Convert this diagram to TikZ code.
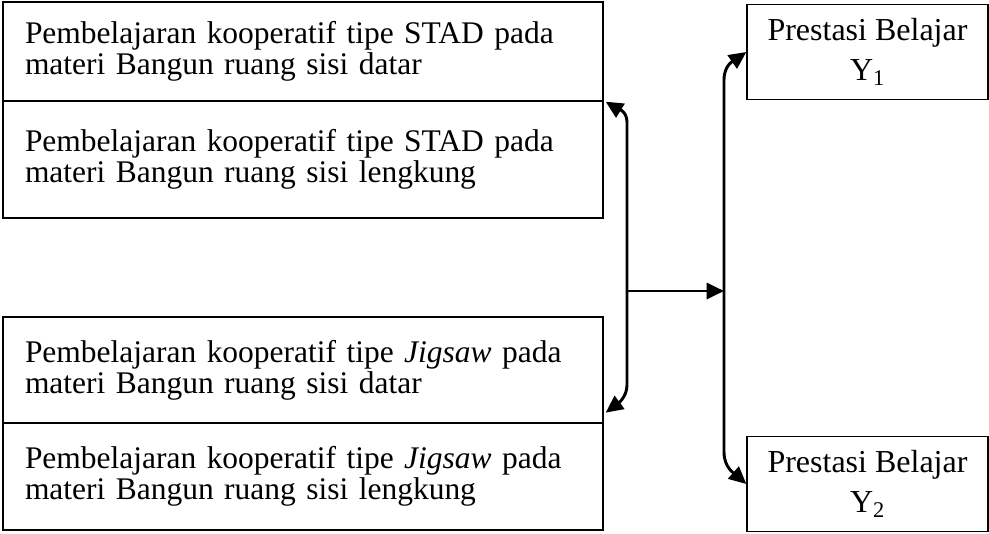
\documentclass[tikz,border=0pt]{standalone}
\usepackage{fontspec}
\setmainfont{Liberation Serif}
\usetikzlibrary{arrows.meta}
\begin{document}
\begin{tikzpicture}[x=0.75pt,y=-0.75pt]
\useasboundingbox (0,0) rectangle (989,533);
\tikzset{
  lbox/.style={draw, line width=1pt, minimum width=450pt, text width=417pt,
    align=left, inner xsep=16.5pt, inner ysep=0pt,
    font=\fontsize{23.6}{23}\selectfont},
  rbox/.style={draw, line width=1pt, minimum width=180.75pt, minimum height=71.25pt,
    align=center, inner sep=0pt, font=\fontsize{24}{30}\selectfont},
  conn/.style={line width=2.2pt, -{Triangle[length=13pt,width=12pt]}}
}
\node[lbox, minimum height=74.25pt] (b1) at (303,51.5)
  {Pembelajaran kooperatif tipe STAD pada\\materi Bangun ruang sisi datar};
\node[lbox, minimum height=87.75pt] (b2) at (303,159.5)
  {Pembelajaran kooperatif tipe STAD pada\\materi Bangun ruang sisi lengkung};
\node[lbox, minimum height=79.5pt] (b3) at (303,370)
  {Pembelajaran kooperatif tipe \textit{Jigsaw} pada\\materi Bangun ruang sisi datar};
\node[lbox, minimum height=80.25pt] (b4) at (303,476.5)
  {Pembelajaran kooperatif tipe \textit{Jigsaw} pada\\materi Bangun ruang sisi lengkung};
\node[rbox] (y1) at (867.5,52) {Prestasi Belajar\\Y\textsubscript{1}};
\node[rbox] (y2) at (867.5,484) {Prestasi Belajar\\Y\textsubscript{2}};

\coordinate (mid) at (627,291);
\coordinate (lt) at (627,122);
\coordinate (lb) at (627,385);
\coordinate (rm) at (724,291);
\coordinate (rt) at (724,80);
\coordinate (rb) at (724,452);

\draw[conn] (mid) -- (lt) .. controls (627,110) and (616,108) .. ([xshift=1.5pt]b1.south east);
\draw[conn] (mid) -- (lb) .. controls (627,398) and (616,405) .. ([xshift=1.5pt,yshift=8.25pt]b3.south east);
\draw[conn] (mid) -- (rm);
\draw[conn] (rm) -- (rt) .. controls (724,64) and (735,60) .. (y1.west);
\draw[conn] (rm) -- (rb) .. controls (724,468) and (735,474) .. (y2.west);
\end{tikzpicture}
\end{document}
